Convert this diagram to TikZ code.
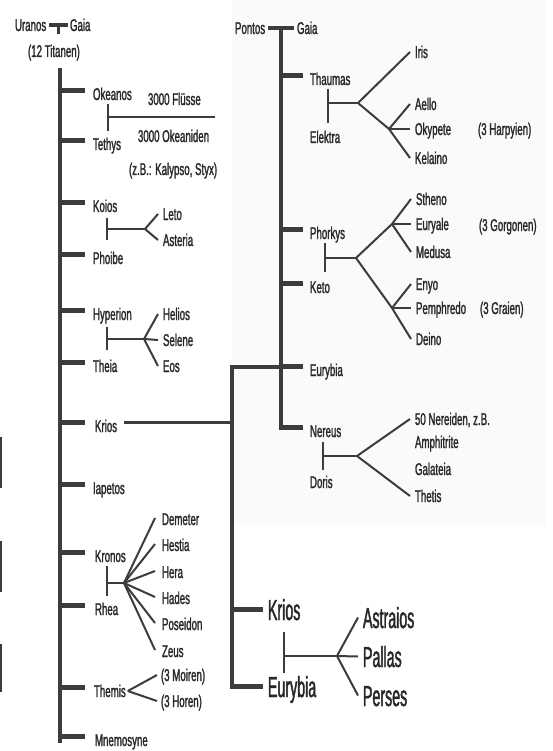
\documentclass[tikz,border=0pt]{standalone}
\usepackage{fontspec}
\setmainfont{Liberation Sans}[FakeStretch=0.57,FakeBold=1.4]
\newfontfamily\bigfont{Liberation Sans}[FakeStretch=0.49,FakeBold=1.4]
\begin{document}
\begin{tikzpicture}[x=1pt,y=-1pt,
  lbl/.style={text=textColor,anchor=base west,inner sep=0pt,outer sep=0pt,text height=12pt,text depth=0pt,font=\fontsize{17}{17}\selectfont},
  biglbl/.style={lbl,text height=21pt,font=\bigfont\fontsize{29}{29}\selectfont},
  trunk/.style={draw=drawColor,line width=3.2pt},
  tick/.style={draw=drawColor,line width=4.6pt},
  tie/.style={draw=drawColor,line width=1.6pt},
  bond/.style={draw=drawColor,line width=2.6pt},
  kin/.style={draw=drawColor,line width=2pt}]
\definecolor{drawColor}{RGB}{60,60,60}
\definecolor{textColor}{RGB}{40,40,40}
\definecolor{paneColor}{RGB}{250,250,250}

\path[use as bounding box,fill=white] (0,0) rectangle (552,751);
\fill[paneColor] (232,0) rectangle (546,525);

\draw[drawColor,line width=2pt] (1,437) -- (1,488);
\draw[drawColor,line width=2pt] (1,541) -- (1,592);
\draw[drawColor,line width=2pt] (1,644) -- (1,692);

\node[lbl] (uranos) at (15,31) {Uranos};
\node[lbl] (gaiaL) at (70,31) {Gaia};
\node[lbl] (titanen) at (28,57) {(12 Titanen)};
\draw[tick] ([xshift=3pt]uranos.east) -- ([xshift=-2pt]gaiaL.west);
\coordinate (ugStub) at (58,25);
\draw[drawColor,line width=3pt] (ugStub) -- ++(0,9);

\coordinate (trunkL) at (60,68);
\coordinate (trunkLend) at (60,743);
\draw[trunk] (trunkL) -- (trunkLend);

\node[lbl] (okeanos) at (93,100) {Okeanos};
\node[lbl] (tethys) at (93,150) {Tethys};
\node[lbl] (koios) at (93,212) {Koios};
\node[lbl] (phoibe) at (93,264) {Phoibe};
\node[lbl] (hyperion) at (93,320) {Hyperion};
\node[lbl] (theia) at (93,372) {Theia};
\node[lbl] (kriosL) at (95,432) {Krios};
\node[lbl] (iapetos) at (93,494) {Iapetos};
\node[lbl] (kronos) at (95,562) {Kronos};
\node[lbl] (rhea) at (95,615) {Rhea};
\node[lbl] (themis) at (94,697) {Themis};
\node[lbl] (mnemosyne) at (95,746) {Mnemosyne};

\draw[tick] ([yshift=3.5pt]trunkL |- okeanos.west) -- ([xshift=-8pt,yshift=3.5pt]okeanos.west);
\draw[tick] ([yshift=3.5pt]trunkL |- tethys.west) -- ([xshift=-8pt,yshift=3.5pt]tethys.west);
\draw[tick] ([yshift=3.5pt]trunkL |- koios.west) -- ([xshift=-8pt,yshift=3.5pt]koios.west);
\draw[tick] ([yshift=3.5pt]trunkL |- phoibe.west) -- ([xshift=-8pt,yshift=3.5pt]phoibe.west);
\draw[tick] ([yshift=3.5pt]trunkL |- hyperion.west) -- ([xshift=-8pt,yshift=3.5pt]hyperion.west);
\draw[tick] ([yshift=3.5pt]trunkL |- theia.west) -- ([xshift=-8pt,yshift=3.5pt]theia.west);
\draw[tick] ([yshift=3.5pt]trunkL |- kriosL.west) -- ([xshift=-10pt,yshift=3.5pt]kriosL.west);
\draw[tick] ([yshift=3.5pt]trunkL |- iapetos.west) -- ([xshift=-8pt,yshift=3.5pt]iapetos.west);
\draw[tick] ([yshift=3.5pt]trunkL |- kronos.west) -- ([xshift=-10pt,yshift=3.5pt]kronos.west);
\draw[tick] ([yshift=3.5pt]trunkL |- rhea.west) -- ([xshift=-10pt,yshift=3.5pt]rhea.west);
\draw[tick] ([yshift=3.5pt]trunkL |- themis.west) -- ([xshift=-9pt,yshift=3.5pt]themis.west);
\draw[tick] ([xshift=-1.6pt,yshift=3.5pt]trunkL |- mnemosyne.west) -- ([xshift=-10pt,yshift=3.5pt]mnemosyne.west);

\coordinate (okTop) at (108,104);
\coordinate (okBot) at (108,131);
\coordinate (okJoin) at (108,117);
\coordinate (okEnd) at (215,117);
\draw[tie] (okTop) -- (okBot);
\draw[bond] (okJoin) -- (okEnd);
\node[lbl] (fluesse) at (148,105) {3000 Flüsse};
\node[lbl] (okeaniden) at (138,142) {3000 Okeaniden};
\node[lbl] (kalypso) at (129,175) {(z.B.: Kalypso, Styx)};

\coordinate (kpTop) at (107,218);
\coordinate (kpBot) at (107,240);
\coordinate (kpJoin) at (107,229);
\coordinate (kpFork) at (145,229);
\draw[tie] (kpTop) -- (kpBot);
\draw[bond] (kpJoin) -- (kpFork);
\node[lbl] (leto) at (163,220) {Leto};
\node[lbl] (asteria) at (163,246) {Asteria};
\draw[kin] (kpFork) -- ([xshift=-5pt]leto.west);
\draw[kin] (kpFork) -- ([xshift=-5pt]asteria.west);

\coordinate (hyTop) at (107,327);
\coordinate (hyBot) at (107,350);
\coordinate (hyJoin) at (107,339);
\coordinate (hyFork) at (144,339);
\draw[tie] (hyTop) -- (hyBot);
\draw[bond] (hyJoin) -- (hyFork);
\node[lbl] (helios) at (163,320) {Helios};
\node[lbl] (selene) at (163,346) {Selene};
\node[lbl] (eos) at (163,372) {Eos};
\draw[kin] (hyFork) -- ([xshift=-5pt]helios.west);
\draw[kin] (hyFork) -- ([xshift=-5pt]selene.west);
\draw[kin] (hyFork) -- ([xshift=-5pt]eos.west);

\coordinate (krTop) at (107,566);
\coordinate (krBot) at (107,596);
\coordinate (krJoin) at (107,583);
\coordinate (krFork) at (124,583);
\draw[tie] (krTop) -- (krBot);
\draw[bond] (krJoin) -- (krFork);
\node[lbl] (demeter) at (162,525) {Demeter};
\node[lbl] (hestia) at (162,551) {Hestia};
\node[lbl] (hera) at (162,578) {Hera};
\node[lbl] (hades) at (162,604) {Hades};
\node[lbl] (poseidon) at (162,630) {Poseidon};
\node[lbl] (zeus) at (162,657) {Zeus};
\draw[kin] (krFork) -- ([xshift=-7pt,yshift=1pt]demeter.west);
\draw[kin] (krFork) -- ([xshift=-7pt,yshift=1pt]hestia.west);
\draw[kin] (krFork) -- ([xshift=-7pt,yshift=1pt]hera.west);
\draw[kin] (krFork) -- ([xshift=-7pt,yshift=1pt]hades.west);
\draw[kin] (krFork) -- ([xshift=-7pt,yshift=1pt]poseidon.west);
\draw[kin] (krFork) -- ([xshift=-7pt,yshift=1pt]zeus.west);

\node[lbl] (moiren) at (161,681) {(3 Moiren)};
\node[lbl] (horen) at (161,707) {(3 Horen)};
\draw[kin] ([xshift=2pt]themis.east) -- ([xshift=-4pt]moiren.west);
\draw[kin] ([xshift=2pt]themis.east) -- ([xshift=-4pt]horen.west);

\node[lbl] (pontos) at (235,34) {Pontos};
\node[lbl] (gaiaR) at (297,34) {Gaia};
\draw[tick] ([xshift=3pt]pontos.east) -- ([xshift=-3pt]gaiaR.west);
\coordinate (trunkP) at (281,28);
\coordinate (trunkPend) at (281,429);
\draw[trunk] (trunkP) -- (trunkPend);

\node[lbl] (thaumas) at (310,85) {Thaumas};
\node[lbl] (elektra) at (310,143) {Elektra};
\node[lbl] (phorkys) at (310,239) {Phorkys};
\node[lbl] (keto) at (310,293) {Keto};
\node[lbl] (eurybiaR) at (310,376) {Eurybia};
\node[lbl] (nereus) at (310,437) {Nereus};
\node[lbl] (doris) at (310,488) {Doris};

\draw[tick] ([yshift=3.5pt]trunkP |- thaumas.west) -- ([xshift=-7pt,yshift=3.5pt]thaumas.west);
\draw[tick] ([yshift=3.5pt]trunkP |- phorkys.west) -- ([xshift=-7pt,yshift=3.5pt]phorkys.west);
\draw[tick] ([yshift=3.5pt]trunkP |- keto.west) -- ([xshift=-7pt,yshift=3.5pt]keto.west);
\draw[tick] ([yshift=3.5pt]trunkP |- eurybiaR.west) -- ([xshift=-7pt,yshift=3.5pt]eurybiaR.west);
\draw[tick] ([xshift=-1.6pt,yshift=3.5pt]trunkP |- nereus.west) -- ([xshift=-7pt,yshift=3.5pt]nereus.west);

\coordinate (thTop) at (328,89);
\coordinate (thBot) at (328,123);
\coordinate (thJoin) at (328,103);
\coordinate (thFork) at (358,103);
\coordinate (thSub) at (389,129);
\draw[tie] (thTop) -- (thBot);
\draw[bond] (thJoin) -- (thFork);
\node[lbl] (iris) at (415,58) {Iris};
\node[lbl] (aello) at (415,110) {Aello};
\node[lbl] (okypete) at (415,135) {Okypete};
\node[lbl] (kelaino) at (415,164) {Kelaino};
\node[lbl] (harpyien) at (478,135) {(3 Harpyien)};
\draw[kin] (thFork) -- ([xshift=-5pt]iris.west);
\draw[kin] (thFork) -- (thSub) -- ([xshift=-5pt]kelaino.west);
\draw[kin] (thSub) -- ([xshift=-5pt]aello.west);
\draw[kin] (thSub) -- ([xshift=-5pt]okypete.west);

\coordinate (phTop) at (325,243);
\coordinate (phBot) at (325,272);
\coordinate (phJoin) at (325,258);
\coordinate (phFork) at (356,258);
\coordinate (phUp) at (392,224);
\coordinate (phDown) at (392,308);
\draw[tie] (phTop) -- (phBot);
\draw[bond] (phJoin) -- (phFork);
\node[lbl] (stheno) at (416,205) {Stheno};
\node[lbl] (euryale) at (416,230) {Euryale};
\node[lbl] (medusa) at (416,258) {Medusa};
\node[lbl] (enyo) at (416,290) {Enyo};
\node[lbl] (pemphredo) at (416,314) {Pemphredo};
\node[lbl] (deino) at (416,345) {Deino};
\node[lbl] (gorgonen) at (479,231) {(3 Gorgonen)};
\node[lbl] (graien) at (480,314) {(3 Graien)};
\draw[kin] (phFork) -- (phUp) -- ([xshift=-5pt]stheno.west);
\draw[kin] (phUp) -- ([xshift=-5pt]euryale.west);
\draw[kin] (phUp) -- ([xshift=-5pt]medusa.west);
\draw[kin] (phFork) -- (phDown) -- ([xshift=-5pt]deino.west);
\draw[kin] (phDown) -- ([xshift=-5pt]enyo.west);
\draw[kin] (phDown) -- ([xshift=-5pt]pemphredo.west);

\coordinate (neTop) at (323,442);
\coordinate (neBot) at (323,470);
\coordinate (neJoin) at (323,456);
\coordinate (neFork) at (357,456);
\draw[tie] (neTop) -- (neBot);
\draw[bond] (neJoin) -- (neFork);
\node[lbl] (nereiden) at (415,425) {50 Nereiden, z.B.};
\node[lbl] (amphitrite) at (415,448) {Amphitrite};
\node[lbl] (galateia) at (415,475) {Galateia};
\node[lbl] (thetis) at (415,502) {Thetis};
\draw[kin] (neFork) -- ([xshift=-5pt]nereiden.west);
\draw[kin] (neFork) -- ([xshift=-5pt]thetis.west);

\coordinate (trunkK) at (232,367);
\draw[trunk] ([xshift=7pt,yshift=3.5pt]kriosL.east) -| (trunkK) -- (trunkK -| trunkP);

\node[biglbl] (kriosB) at (268,620) {Krios};
\node[biglbl] (eurybiaB) at (268,697) {Eurybia};
\draw[trunk] (trunkK) -- (trunkK |- eurybiaB.west);
\draw[tick] ([xshift=-1.6pt]trunkK |- kriosB.west) -- ([xshift=-5pt]kriosB.west);
\draw[tick] ([xshift=-1.6pt]trunkK |- eurybiaB.west) -- ([xshift=-5pt]eurybiaB.west);

\coordinate (kbTop) at (284,632);
\coordinate (kbBot) at (284,673);
\coordinate (kbJoin) at (284,656);
\coordinate (kbFork) at (337,656);
\draw[tie] (kbTop) -- (kbBot);
\draw[bond] (kbJoin) -- (kbFork);
\node[biglbl] (astraios) at (363,628) {Astraios};
\node[biglbl] (pallas) at (363,667) {Pallas};
\node[biglbl] (perses) at (363,706) {Perses};
\draw[kin] (kbFork) -- ([xshift=-5pt]astraios.west);
\draw[kin] (kbFork) -- ([xshift=-5pt]pallas.west);
\draw[kin] (kbFork) -- ([xshift=-5pt]perses.west);
\end{tikzpicture}
\end{document}
